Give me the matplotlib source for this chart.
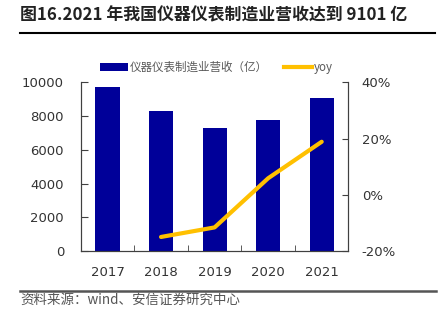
import matplotlib.pyplot as plt
from matplotlib.lines import Line2D
from matplotlib.patches import Patch

plt.rcParams['font.family'] = ['DejaVu Sans', 'Noto Sans CJK SC']

years = ['2017', '2018', '2019', '2020', '2021']
revenue = [9750, 8310, 7300, 7760, 9101]
yoy_years = [1, 2, 3, 4]
yoy = [-0.150, -0.116, 0.059, 0.189]

bar_color = '#000099'
line_color = '#FFC000'
axis_color = '#404040'
text_color = '#333333'

fig = plt.figure(figsize=(4.4, 3.24), dpi=100)
ax = fig.add_axes([0.1834, 0.2253, 0.6086, 0.5201])
x = list(range(len(years)))
ax.bar(x, revenue, width=0.45, color=bar_color, zorder=2)
ax.set_xlim(-0.5, 4.5)
ax.set_ylim(0, 10000)
ax.set_yticks([0, 2000, 4000, 6000, 8000, 10000])
ax.set_xticks(x)
ax.set_xticklabels(years)
ax.set_xticks([0.5, 1.5, 2.5, 3.5], minor=True)
ax.tick_params(axis='x', which='major', length=0, pad=11,
               labelsize=9.5, labelcolor=text_color)
ax.tick_params(axis='x', which='minor', direction='in', length=4,
               color=axis_color)
ax.tick_params(axis='y', direction='in', length=5, color=axis_color,
               labelsize=9.5, labelcolor=text_color, pad=12)
ax.spines['top'].set_visible(False)
for s in ['left', 'right', 'bottom']:
    ax.spines[s].set_color(axis_color)

ax2 = ax.twinx()
ax2.plot(yoy_years, yoy, color=line_color, linewidth=3, solid_capstyle='round',
         zorder=3)
ax2.set_ylim(-0.2, 0.4)
ax2.set_yticks([-0.2, 0, 0.2, 0.4])
ax2.set_yticklabels(['-20%', '0%', '20%', '40%'])
ax2.tick_params(axis='y', direction='in', length=4, color=axis_color,
                labelsize=9.5, labelcolor=text_color, pad=9.5)
ax2.spines['top'].set_visible(False)
for s in ['left', 'right', 'bottom']:
    ax2.spines[s].set_color(axis_color)

handles = [Patch(facecolor=bar_color, edgecolor='none'),
           Line2D([0], [0], color=line_color, linewidth=3)]
leg = fig.legend(handles, ['仪器仪表制造业营收（亿）', 'yoy'], ncol=2,
                 loc='center left', bbox_to_anchor=(0.227, 0.791),
                 frameon=False, prop={'family': ['Noto Sans CJK SC'], 'size': 8.3},
                 handlelength=2.4, handleheight=0.75, handletextpad=0.2,
                 columnspacing=1.4, borderpad=0, borderaxespad=0)
for t in leg.get_texts():
    t.set_color('#595959')

fig.text(0.046, 0.953, '图16.2021 年我国仪器仪表制造业营收达到 9101 亿',
         fontsize=12.2, fontweight='bold', color='#222222',
         family=['Noto Sans CJK SC'], va='center', ha='left')
fig.add_artist(Line2D([0.046, 0.989], [0.897, 0.897], color='black',
                      linewidth=1.5, transform=fig.transFigure))
fig.add_artist(Line2D([0.046, 0.991], [0.102, 0.102], color='#555555',
                      linewidth=1.8, transform=fig.transFigure))
fig.text(0.046, 0.074, '资料来源：wind、安信证券研究中心', fontsize=9.7,
         color='#555555', family=['Noto Sans CJK SC'], style='italic',
         va='center', ha='left')

fig.savefig('out.png', dpi=100)
